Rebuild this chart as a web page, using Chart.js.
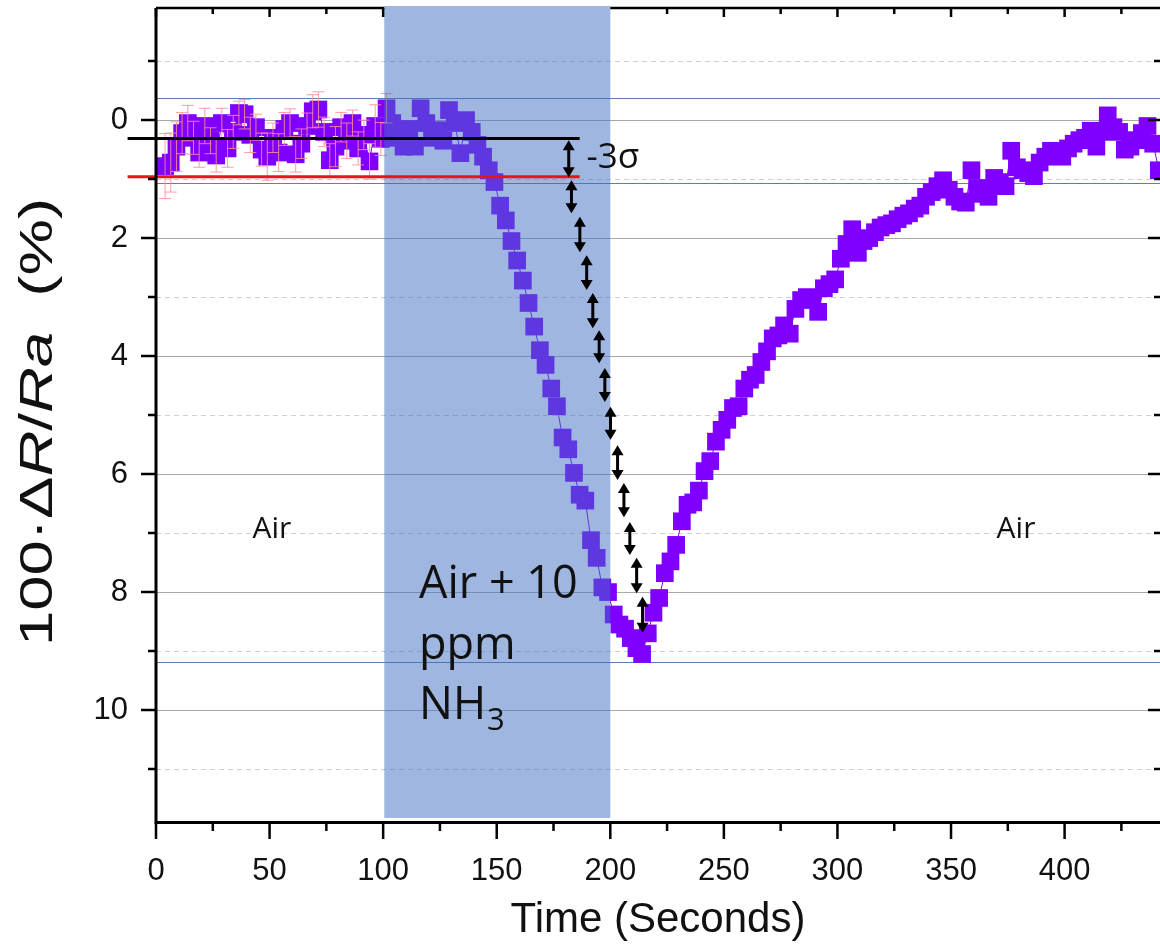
<!DOCTYPE html>
<html><head><meta charset="utf-8">
<script src="https://cdn.jsdelivr.net/npm/chart.js@4.4.1/dist/chart.umd.min.js"></script>
<style>html,body{margin:0;padding:0;background:#fff;}</style>
</head><body>
<canvas id="c" width="1160" height="952"></canvas>
<script>
// ---- data ----
const timeSec = [4,6.5,9,11.5,14,16.5,19,21.5,24,26.5,29,31.5,34,36.5,39,41.5,44,46.5,49,51.5,54,56.5,59,61.5,64,66.5,69,71.5,74,76.5,79,81.5,84,86.5,89,91.5,94,96.5,99,101.5,
104,106.5,109,111.5,114,116.5,119,121.5,124,126.5,129,131.5,134,136.5,139,141.5,144,146.5,149,151.5,154,156.5,159,161.5,164,166.5,169,171.5,174,176.5,179,181.5,184,186.5,189,191.5,194,196.5,199,201.5,
204,206.5,209,211.5,214,216.5,219,221.5,224,226.5,229,231.5,234,236.5,239,241.5,244,246.5,249,251.5,254,256.5,259,261.5,264,266.5,269,271.5,274,276.5,279,281.5,284,286.5,289,291.5,294,296.5,299,301.5,
304,306.5,309,311.5,314,316.5,319,321.5,324,326.5,329,331.5,334,336.5,339,341.5,344,346.5,349,351.5,354,356.5,359,361.5,364,366.5,369,371.5,374,376.5,379,381.5,384,386.5,389,391.5,394,396.5,399,401.5,
404,406.5,409,411.5,414,416.5,419,421.5,424,426.5,429,431.5,434,436.5,439,441.5];
const response = [0.78,0.72,0.45,0.22,0.05,0.30,0.55,0.10,0.35,0.60,0.05,0.48,0.20,-0.12,-0.10,0.25,0.12,0.50,0.62,0.30,0.55,0.15,0.05,0.58,0.40,0.10,-0.15,-0.18,0.20,0.68,0.45,0.12,0.35,0.05,0.48,0.25,0.70,0.10,0.32,-0.20,
0.05,0.30,0.45,0.15,0.45,-0.20,0.05,0.30,0.17,0.35,-0.17,0.05,0.56,0.00,0.20,0.42,0.62,0.85,1.05,1.45,1.70,2.05,2.38,2.72,3.10,3.50,3.90,4.15,4.55,4.85,5.38,5.58,5.98,6.35,6.45,7.12,7.42,7.92,8.00,8.38,
8.55,8.62,8.78,8.95,9.05,8.70,8.35,8.10,7.68,7.48,7.20,6.80,6.52,6.48,6.28,5.95,5.78,5.45,5.25,5.08,4.88,4.85,4.55,4.40,4.32,4.10,3.92,3.70,3.65,3.48,3.62,3.20,3.05,3.00,3.02,3.25,2.85,2.78,2.70,2.35,
2.10,1.85,2.25,2.05,2.00,1.90,1.82,1.78,1.75,1.68,1.62,1.58,1.50,1.45,1.30,1.22,1.12,1.02,1.18,1.30,1.38,1.40,0.85,1.15,1.25,1.30,0.98,1.05,1.12,0.52,0.80,0.85,0.90,0.95,0.72,0.62,0.52,0.55,0.62,0.48,
0.40,0.34,0.30,0.18,0.45,0.20,-0.08,0.12,0.20,0.50,0.45,0.34,0.22,0.10,0.40,0.85];
// error bars for the first (baseline) points
const baselineError = [0.55,0.50,0.42,0.35,0.30,0.28,0.25,0.30,0.22,0.28,0.25,0.32,0.28,0.20,0.25,0.30,0.22,0.28,0.40,0.25,0.32,0.28,0.24,0.30,0.25,0.22,0.28,0.30,0.25,0.28,0.34,0.25,0.30,0.22,0.28,0.25,0.30,0.36,0.28,0.25];
// reference lines (value units)
const meanLevel = 0.31;       // black line
const threeSigmaLevel = 0.96; // red line
const refLineSpan = [-12.5, 186.5];
const blueLevels = [-0.38, 1.07, 9.19];
// 3-sigma step arrows
const arrowTime = [181.7,182.9,186.6,189.6,192.3,195.1,197.6,200.1,203.2,206.0,208.6,211.6,214.2];
const arrowTop = [0.34,1.02,1.64,2.29,2.93,3.56,4.20,4.86,5.51,6.15,6.81,7.42,8.08];
const arrowBottom = [0.97,1.58,2.24,2.88,3.53,4.12,4.78,5.42,6.10,6.73,7.37,8.02,8.69];
// gas exposure window
const exposureWindow = [100.5, 200];
// axis ticks
const yMajorTicks = [0,2,4,6,8,10];
const yMinorTicks = [-1,1,3,5,7,9,11];
const xMajorTicks = [0,50,100,150,200,250,300,350,400];
const xMinorTicks = [25,75,125,175,225,275,325,375,425];

const points = timeSec.map((t,i)=>({x:t, y:response[i]}));
const AX = 'Liberation Sans, Arial, sans-serif';
const CAL = 'Open Sans, Lato, sans-serif';

const deco = {
  id:'deco',
  beforeDatasetsDraw(chart){
    const {ctx, chartArea:a, scales:{x,y}} = chart;
    ctx.save();
    ctx.lineWidth = 1;
    ctx.strokeStyle = '#cfcfcf';
    ctx.setLineDash([5,4]);
    yMinorTicks.forEach(v=>{const p=Math.round(y.getPixelForValue(v))+0.5; ctx.beginPath(); ctx.moveTo(a.left,p); ctx.lineTo(a.right,p); ctx.stroke();});
    ctx.setLineDash([]);
    ctx.strokeStyle = '#a8a8a8';
    yMajorTicks.forEach(v=>{const p=Math.round(y.getPixelForValue(v))+0.5; ctx.beginPath(); ctx.moveTo(a.left,p); ctx.lineTo(a.right,p); ctx.stroke();});
    ctx.strokeStyle = '#5a80b0';
    blueLevels.forEach(v=>{const p=Math.round(y.getPixelForValue(v))+0.5; ctx.beginPath(); ctx.moveTo(a.left,p); ctx.lineTo(a.right,p); ctx.stroke();});
    ctx.restore();
  },
  afterDatasetsDraw(chart){
    const {ctx, chartArea:a, scales:{x,y}} = chart;
    ctx.save();
    // error bars
    ctx.strokeStyle = 'rgba(255,140,150,0.85)';
    ctx.lineWidth = 1;
    baselineError.forEach((e,i)=>{
      const px = x.getPixelForValue(timeSec[i]);
      const p1 = y.getPixelForValue(response[i]-e), p2 = y.getPixelForValue(response[i]+e);
      ctx.beginPath(); ctx.moveTo(px,p1); ctx.lineTo(px,p2);
      ctx.moveTo(px-6,p1); ctx.lineTo(px+6,p1);
      ctx.moveTo(px-6,p2); ctx.lineTo(px+6,p2); ctx.stroke();
    });
    // exposure shading
    const sx1 = x.getPixelForValue(exposureWindow[0]), sx2 = x.getPixelForValue(exposureWindow[1]);
    ctx.fillStyle = 'rgba(64,110,195,0.5)';
    ctx.fillRect(sx1, a.top-2, sx2-sx1, a.bottom-3-(a.top-2));
    // reference lines
    const lx1 = x.getPixelForValue(refLineSpan[0]), lx2 = x.getPixelForValue(refLineSpan[1]);
    ctx.lineWidth = 3;
    ctx.strokeStyle = '#000';
    let p = y.getPixelForValue(meanLevel);
    ctx.beginPath(); ctx.moveTo(lx1,p); ctx.lineTo(lx2,p); ctx.stroke();
    ctx.strokeStyle = '#e8141a';
    p = y.getPixelForValue(threeSigmaLevel);
    ctx.beginPath(); ctx.moveTo(lx1,p); ctx.lineTo(lx2,p); ctx.stroke();
    // arrows
    ctx.fillStyle = '#000'; ctx.strokeStyle = '#000'; ctx.lineWidth = 3;
    arrowTime.forEach((t,i)=>{
      const ax = x.getPixelForValue(t), t1 = y.getPixelForValue(arrowTop[i]), t2 = y.getPixelForValue(arrowBottom[i]);
      const h = 10, w = 6;
      ctx.beginPath(); ctx.moveTo(ax,t1+h-1); ctx.lineTo(ax,t2-h+1); ctx.stroke();
      ctx.beginPath(); ctx.moveTo(ax,t1); ctx.lineTo(ax-w,t1+h); ctx.lineTo(ax+w,t1+h); ctx.closePath(); ctx.fill();
      ctx.beginPath(); ctx.moveTo(ax,t2); ctx.lineTo(ax-w,t2-h); ctx.lineTo(ax+w,t2-h); ctx.closePath(); ctx.fill();
    });
    // annotation texts
    ctx.fillStyle = '#111';
    ctx.textBaseline = 'alphabetic';
    ctx.font = '30px ' + CAL;
    ctx.textAlign = 'center';
    ctx.fillText('Air', x.getPixelForValue(51), y.getPixelForValue(6.9)+11);
    ctx.fillText('Air', x.getPixelForValue(378.6), y.getPixelForValue(6.9)+11);
    ctx.textAlign = 'left';
    ctx.font = '35px ' + CAL;
    ctx.fillText('-3σ', x.getPixelForValue(189.5), y.getPixelForValue(0.61)+12);
    ctx.font = '45px ' + CAL;
    const tx = x.getPixelForValue(115.8);
    ctx.fillText('Air + 10', tx, y.getPixelForValue(8.1));
    ctx.fillText('ppm', tx, y.getPixelForValue(9.13));
    ctx.fillText('NH', tx, y.getPixelForValue(10.15));
    const nhw = ctx.measureText('NH').width;
    ctx.font = '31px ' + CAL;
    ctx.fillText('3', tx+nhw+1, y.getPixelForValue(10.15)+11);
    // axes frame
    ctx.strokeStyle = '#000';
    ctx.lineWidth = 3;
    ctx.beginPath(); ctx.moveTo(a.left, a.top); ctx.lineTo(a.left, a.bottom+1.5); ctx.lineTo(a.right, a.bottom+1.5); ctx.stroke();
    ctx.lineWidth = 2.5;
    ctx.beginPath(); ctx.moveTo(a.left, a.top); ctx.lineTo(sx1, a.top); ctx.moveTo(sx2, a.top); ctx.lineTo(a.right, a.top); ctx.stroke();
    // ticks
    ctx.lineWidth = 2.5;
    ctx.beginPath();
    yMajorTicks.forEach(v=>{const q=y.getPixelForValue(v); ctx.moveTo(a.left-15,q); ctx.lineTo(a.left,q); ctx.moveTo(a.right-12,q); ctx.lineTo(a.right,q);});
    yMinorTicks.forEach(v=>{const q=y.getPixelForValue(v); if(q>a.top && q<a.bottom){ctx.moveTo(a.left-8,q); ctx.lineTo(a.left,q); ctx.moveTo(a.right-6,q); ctx.lineTo(a.right,q);}});
    xMajorTicks.forEach(v=>{const q=x.getPixelForValue(v); ctx.moveTo(q,a.bottom); ctx.lineTo(q,a.bottom+18); if(q<sx1||q>sx2+1){ctx.moveTo(q,a.top); ctx.lineTo(q,a.top+9);}});
    xMinorTicks.forEach(v=>{const q=x.getPixelForValue(v); if(q<a.right){ctx.moveTo(q,a.bottom); ctx.lineTo(q,a.bottom+10); if(q<sx1||q>sx2){ctx.moveTo(q,a.top); ctx.lineTo(q,a.top+6);}}});
    ctx.stroke();
    ctx.restore();
  },
  afterDraw(chart){
    const {ctx} = chart;
    // y-axis title with italic parts
    const parts = [['100·Δ',''],['R','italic '],['/',''],['Ra','italic '],['  (%)','']];
    const size = 46;
    ctx.save();
    let total = 0;
    parts.forEach(([s,st])=>{ctx.font = st+size+'px '+AX; total += ctx.measureText(s).width;});
    ctx.translate(39, 422);
    ctx.rotate(-Math.PI/2);
    ctx.scale(1.38, 1);
    ctx.fillStyle = '#111';
    ctx.textBaseline = 'middle';
    ctx.textAlign = 'left';
    let cx = -total/2;
    parts.forEach(([s,st])=>{ctx.font = st+size+'px '+AX; ctx.fillText(s, cx, 0); cx += ctx.measureText(s).width;});
    ctx.restore();
  }
};

new Chart(document.getElementById('c'), {
  type:'line',
  data:{datasets:[{data:points, borderColor:'#7f00ff', borderWidth:1, pointStyle:'rect', pointRadius:12.5, pointHoverRadius:12.5,
    pointBackgroundColor:'#7f00ff', pointBorderColor:'#7f00ff', pointBorderWidth:0, tension:0, fill:false}]},
  options:{
    responsive:false, animation:false, devicePixelRatio:1,
    layout:{autoPadding:false, padding:{top:8,left:0,right:0,bottom:0}},
    plugins:{legend:{display:false}, tooltip:{enabled:false}},
    scales:{
      x:{type:'linear', min:0, max:442, afterFit(s){s.height=131; s.paddingLeft=0; s.paddingRight=0;},
        grid:{display:false, drawTicks:false}, border:{display:false},
        ticks:{stepSize:50, includeBounds:false, padding:32, maxRotation:0, color:'#111', font:{family:AX, size:31}},
        title:{display:true, text:'Time (Seconds)', color:'#111', font:{family:AX, size:42}, padding:{top:0,bottom:6}}},
      y:{type:'linear', reverse:true, min:-1.9, max:11.88, afterFit(s){s.width=156; s.paddingTop=0; s.paddingBottom=0;},
        grid:{display:false, drawTicks:false}, border:{display:false},
        ticks:{stepSize:2, includeBounds:false, padding:28, color:'#111', font:{family:AX, size:31}}}
    }
  },
  plugins:[deco]
});
</script>
</body></html>
